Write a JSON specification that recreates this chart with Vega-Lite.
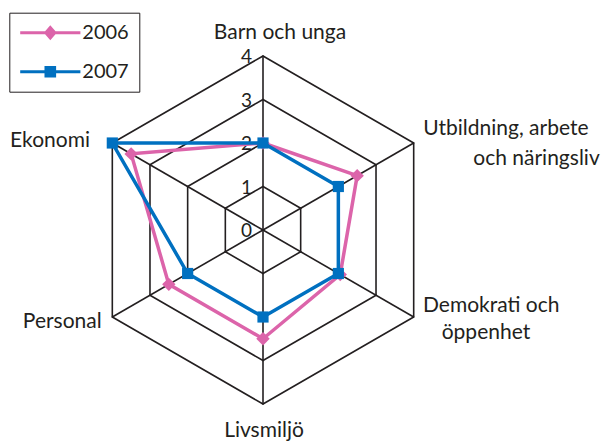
{
  "$schema": "https://vega.github.io/schema/vega-lite/v6.json",
  "width": 611,
  "height": 442,
  "padding": 0,
  "autosize": "none",
  "background": "white",
  "config": {"view": {"stroke": null}, "font": "Lato"},
  "datasets": {
    "grid": [
      {"level": 1, "k": 0}, {"level": 1, "k": 1}, {"level": 1, "k": 2}, {"level": 1, "k": 3}, {"level": 1, "k": 4}, {"level": 1, "k": 5},
      {"level": 2, "k": 0}, {"level": 2, "k": 1}, {"level": 2, "k": 2}, {"level": 2, "k": 3}, {"level": 2, "k": 4}, {"level": 2, "k": 5},
      {"level": 3, "k": 0}, {"level": 3, "k": 1}, {"level": 3, "k": 2}, {"level": 3, "k": 3}, {"level": 3, "k": 4}, {"level": 3, "k": 5},
      {"level": 4, "k": 0}, {"level": 4, "k": 1}, {"level": 4, "k": 2}, {"level": 4, "k": 3}, {"level": 4, "k": 4}, {"level": 4, "k": 5}
    ],
    "ticks": [{"level": 0}, {"level": 1}, {"level": 2}, {"level": 3}, {"level": 4}],
    "scores": [
      {"year": "2006", "axis": "Barn och unga", "k": 0, "value": 2.0},
      {"year": "2006", "axis": "Utbildning, arbete och näringsliv", "k": 1, "value": 2.5},
      {"year": "2006", "axis": "Demokrati och öppenhet", "k": 2, "value": 2.05},
      {"year": "2006", "axis": "Livsmiljö", "k": 3, "value": 2.5},
      {"year": "2006", "axis": "Personal", "k": 4, "value": 2.5},
      {"year": "2006", "axis": "Ekonomi", "k": 5, "value": 3.5},
      {"year": "2007", "axis": "Barn och unga", "k": 0, "value": 2.0},
      {"year": "2007", "axis": "Utbildning, arbete och näringsliv", "k": 1, "value": 2.0},
      {"year": "2007", "axis": "Demokrati och öppenhet", "k": 2, "value": 2.0},
      {"year": "2007", "axis": "Livsmiljö", "k": 3, "value": 2.0},
      {"year": "2007", "axis": "Personal", "k": 4, "value": 2.0},
      {"year": "2007", "axis": "Ekonomi", "k": 5, "value": 4.0}
    ],
    "labels": [
      {"id": "a", "k": 0, "text": "Barn och unga"},
      {"id": "b1", "k": 1, "text": "Utbildning, arbete"},
      {"id": "b2", "k": 1, "text": "och näringsliv"},
      {"id": "c1", "k": 2, "text": "Demokrati och"},
      {"id": "c2", "k": 2, "text": "öppenhet"},
      {"id": "d", "k": 3, "text": "Livsmiljö"},
      {"id": "e", "k": 4, "text": "Personal"},
      {"id": "f", "k": 5, "text": "Ekonomi"}
    ]
  },
  "layer": [
    {
      "data": {"name": "grid"},
      "transform": [
        {"calculate": "datum.level*cos(PI/2 - datum.k*PI/3)", "as": "px"},
        {"calculate": "datum.level*sin(PI/2 - datum.k*PI/3)", "as": "py"},
        {"calculate": "datum.level*cos(PI/2 - (datum.k+1)*PI/3)", "as": "px2"},
        {"calculate": "datum.level*sin(PI/2 - (datum.k+1)*PI/3)", "as": "py2"}
      ],
      "mark": {"type": "rule", "color": "#231f20", "strokeWidth": 1.6, "strokeCap": "round"},
      "encoding": {
        "x": {"field": "px", "type": "quantitative", "scale": {"domain": [-6.046, 8.0], "nice": false, "zero": false}, "axis": null},
        "y": {"field": "py", "type": "quantitative", "scale": {"domain": [-4.8736, 5.2874], "nice": false, "zero": false}, "axis": null},
        "x2": {"field": "px2"},
        "y2": {"field": "py2"}
      }
    },
    {
      "data": {"name": "grid"},
      "transform": [
        {"filter": "datum.level == 4"},
        {"calculate": "0", "as": "cx"},
        {"calculate": "0", "as": "cy"},
        {"calculate": "datum.level*cos(PI/2 - datum.k*PI/3)", "as": "px"},
        {"calculate": "datum.level*sin(PI/2 - datum.k*PI/3)", "as": "py"}
      ],
      "mark": {"type": "rule", "color": "#231f20", "strokeWidth": 1.6},
      "encoding": {
        "x": {"field": "cx", "type": "quantitative", "scale": {"domain": [-6.046, 8.0], "nice": false, "zero": false}, "axis": null},
        "y": {"field": "cy", "type": "quantitative", "scale": {"domain": [-4.8736, 5.2874], "nice": false, "zero": false}, "axis": null},
        "x2": {"field": "px"},
        "y2": {"field": "py"}
      }
    },
    {
      "data": {"name": "ticks"},
      "transform": [
        {"calculate": "0", "as": "px"},
        {"calculate": "datum.level", "as": "py"}
      ],
      "mark": {"type": "text", "align": "right", "baseline": "middle", "dx": -11, "dy": 1, "font": "Lato", "fontSize": 19, "color": "#231f20"},
      "encoding": {
        "x": {"field": "px", "type": "quantitative", "scale": {"domain": [-6.046, 8.0], "nice": false, "zero": false}, "axis": null},
        "y": {"field": "py", "type": "quantitative", "scale": {"domain": [-4.8736, 5.2874], "nice": false, "zero": false}, "axis": null},
        "text": {"field": "level", "type": "nominal"}
      }
    },
    {
      "data": {"name": "scores"},
      "transform": [
        {"filter": "datum.year == '2006'"},
        {"calculate": "datum.value*cos(PI/2 - datum.k*PI/3)", "as": "px"},
        {"calculate": "datum.value*sin(PI/2 - datum.k*PI/3)", "as": "py"}
      ],
      "mark": {"type": "line", "interpolate": "linear-closed", "strokeWidth": 3.5},
      "encoding": {
        "x": {"field": "px", "type": "quantitative", "scale": {"domain": [-6.046, 8.0], "nice": false, "zero": false}, "axis": null},
        "y": {"field": "py", "type": "quantitative", "scale": {"domain": [-4.8736, 5.2874], "nice": false, "zero": false}, "axis": null},
        "order": {"field": "k", "type": "quantitative"},
        "color": {
          "field": "year", "type": "nominal",
          "scale": {"domain": ["2006", "2007"], "range": ["#DC64AA", "#0070C0"]},
          "legend": {
            "type": "symbol",
            "title": null,
            "orient": "none",
            "legendX": 9.3,
            "legendY": 12.7,
            "strokeColor": "#231f20",
            "padding": 10,
            "rowPadding": 19,
            "symbolSize": 196,
            "symbolOffset": 21,
            "symbolStrokeWidth": 0,
            "labelOffset": 22,
            "labelFont": "Lato",
            "labelFontSize": 20,
            "labelColor": "#231f20",
            "encode": {
              "symbols": {
                "update": {
                  "shape": {"signal": "datum.value === '2006' ? 'M-4.3,-0.22L4.3,-0.22L4.3,0.22L-4.3,0.22Z M0,-1.07L0.93,0L0,1.07L-0.93,0Z' : 'M-4.3,-0.22L4.3,-0.22L4.3,0.22L-4.3,0.22Z M-0.83,-0.83L0.83,-0.83L0.83,0.83L-0.83,0.83Z'"},
                  "fill": {"signal": "datum.value === '2006' ? '#DC64AA' : '#0070C0'"},
                  "stroke": {"value": "transparent"},
                  "strokeWidth": {"value": 0},
                  "opacity": {"value": 1}
                }
              }
            }
          }
        }
      }
    },
    {
      "data": {"name": "scores"},
      "transform": [
        {"filter": "datum.year == '2006'"},
        {"calculate": "datum.value*cos(PI/2 - datum.k*PI/3)", "as": "px"},
        {"calculate": "datum.value*sin(PI/2 - datum.k*PI/3)", "as": "py"}
      ],
      "mark": {"type": "point", "shape": "diamond", "filled": true, "opacity": 1, "size": 180},
      "encoding": {
        "x": {"field": "px", "type": "quantitative", "scale": {"domain": [-6.046, 8.0], "nice": false, "zero": false}, "axis": null},
        "y": {"field": "py", "type": "quantitative", "scale": {"domain": [-4.8736, 5.2874], "nice": false, "zero": false}, "axis": null},
        "color": {"field": "year", "type": "nominal"}
      }
    },
    {
      "data": {"name": "scores"},
      "transform": [
        {"filter": "datum.year == '2007'"},
        {"calculate": "datum.value*cos(PI/2 - datum.k*PI/3)", "as": "px"},
        {"calculate": "datum.value*sin(PI/2 - datum.k*PI/3)", "as": "py"}
      ],
      "mark": {"type": "line", "interpolate": "linear-closed", "strokeWidth": 3.5},
      "encoding": {
        "x": {"field": "px", "type": "quantitative", "scale": {"domain": [-6.046, 8.0], "nice": false, "zero": false}, "axis": null},
        "y": {"field": "py", "type": "quantitative", "scale": {"domain": [-4.8736, 5.2874], "nice": false, "zero": false}, "axis": null},
        "order": {"field": "k", "type": "quantitative"},
        "color": {"field": "year", "type": "nominal"}
      }
    },
    {
      "data": {"name": "scores"},
      "transform": [
        {"filter": "datum.year == '2007'"},
        {"calculate": "datum.value*cos(PI/2 - datum.k*PI/3)", "as": "px"},
        {"calculate": "datum.value*sin(PI/2 - datum.k*PI/3)", "as": "py"}
      ],
      "mark": {"type": "point", "shape": "square", "filled": true, "opacity": 1, "size": 125},
      "encoding": {
        "x": {"field": "px", "type": "quantitative", "scale": {"domain": [-6.046, 8.0], "nice": false, "zero": false}, "axis": null},
        "y": {"field": "py", "type": "quantitative", "scale": {"domain": [-4.8736, 5.2874], "nice": false, "zero": false}, "axis": null},
        "color": {"field": "year", "type": "nominal"}
      }
    },
    {
      "data": {"name": "labels"},
      "transform": [
        {"filter": "datum.id == 'a'"},
        {"calculate": "4*cos(PI/2 - datum.k*PI/3)", "as": "px"},
        {"calculate": "4*sin(PI/2 - datum.k*PI/3)", "as": "py"}
      ],
      "mark": {"type": "text", "align": "center", "baseline": "alphabetic", "dx": 17, "dy": -17, "font": "Lato", "fontSize": 21, "color": "#231f20"},
      "encoding": {
        "x": {"field": "px", "type": "quantitative", "scale": {"domain": [-6.046, 8.0], "nice": false, "zero": false}, "axis": null},
        "y": {"field": "py", "type": "quantitative", "scale": {"domain": [-4.8736, 5.2874], "nice": false, "zero": false}, "axis": null},
        "text": {"field": "text", "type": "nominal"}
      }
    },
    {
      "data": {"name": "labels"},
      "transform": [
        {"filter": "datum.id == 'b1'"},
        {"calculate": "4*cos(PI/2 - datum.k*PI/3)", "as": "px"},
        {"calculate": "4*sin(PI/2 - datum.k*PI/3)", "as": "py"}
      ],
      "mark": {"type": "text", "align": "left", "baseline": "alphabetic", "dx": 9.6, "dy": -8, "font": "Lato", "fontSize": 21, "color": "#231f20"},
      "encoding": {
        "x": {"field": "px", "type": "quantitative", "scale": {"domain": [-6.046, 8.0], "nice": false, "zero": false}, "axis": null},
        "y": {"field": "py", "type": "quantitative", "scale": {"domain": [-4.8736, 5.2874], "nice": false, "zero": false}, "axis": null},
        "text": {"field": "text", "type": "nominal"}
      }
    },
    {
      "data": {"name": "labels"},
      "transform": [
        {"filter": "datum.id == 'b2'"},
        {"calculate": "4*cos(PI/2 - datum.k*PI/3)", "as": "px"},
        {"calculate": "4*sin(PI/2 - datum.k*PI/3)", "as": "py"}
      ],
      "mark": {"type": "text", "align": "left", "baseline": "alphabetic", "dx": 59.6, "dy": 22, "font": "Lato", "fontSize": 21, "color": "#231f20"},
      "encoding": {
        "x": {"field": "px", "type": "quantitative", "scale": {"domain": [-6.046, 8.0], "nice": false, "zero": false}, "axis": null},
        "y": {"field": "py", "type": "quantitative", "scale": {"domain": [-4.8736, 5.2874], "nice": false, "zero": false}, "axis": null},
        "text": {"field": "text", "type": "nominal"}
      }
    },
    {
      "data": {"name": "labels"},
      "transform": [
        {"filter": "datum.id == 'c1'"},
        {"calculate": "4*cos(PI/2 - datum.k*PI/3)", "as": "px"},
        {"calculate": "4*sin(PI/2 - datum.k*PI/3)", "as": "py"}
      ],
      "mark": {"type": "text", "align": "left", "baseline": "alphabetic", "dx": 9.3, "dy": -5.3, "font": "Lato", "fontSize": 21, "color": "#231f20"},
      "encoding": {
        "x": {"field": "px", "type": "quantitative", "scale": {"domain": [-6.046, 8.0], "nice": false, "zero": false}, "axis": null},
        "y": {"field": "py", "type": "quantitative", "scale": {"domain": [-4.8736, 5.2874], "nice": false, "zero": false}, "axis": null},
        "text": {"field": "text", "type": "nominal"}
      }
    },
    {
      "data": {"name": "labels"},
      "transform": [
        {"filter": "datum.id == 'c2'"},
        {"calculate": "4*cos(PI/2 - datum.k*PI/3)", "as": "px"},
        {"calculate": "4*sin(PI/2 - datum.k*PI/3)", "as": "py"}
      ],
      "mark": {"type": "text", "align": "left", "baseline": "alphabetic", "dx": 28, "dy": 22, "font": "Lato", "fontSize": 21, "color": "#231f20"},
      "encoding": {
        "x": {"field": "px", "type": "quantitative", "scale": {"domain": [-6.046, 8.0], "nice": false, "zero": false}, "axis": null},
        "y": {"field": "py", "type": "quantitative", "scale": {"domain": [-4.8736, 5.2874], "nice": false, "zero": false}, "axis": null},
        "text": {"field": "text", "type": "nominal"}
      }
    },
    {
      "data": {"name": "labels"},
      "transform": [
        {"filter": "datum.id == 'd'"},
        {"calculate": "4*cos(PI/2 - datum.k*PI/3)", "as": "px"},
        {"calculate": "4*sin(PI/2 - datum.k*PI/3)", "as": "py"}
      ],
      "mark": {"type": "text", "align": "center", "baseline": "alphabetic", "dx": 1, "dy": 32.7, "font": "Lato", "fontSize": 21, "color": "#231f20"},
      "encoding": {
        "x": {"field": "px", "type": "quantitative", "scale": {"domain": [-6.046, 8.0], "nice": false, "zero": false}, "axis": null},
        "y": {"field": "py", "type": "quantitative", "scale": {"domain": [-4.8736, 5.2874], "nice": false, "zero": false}, "axis": null},
        "text": {"field": "text", "type": "nominal"}
      }
    },
    {
      "data": {"name": "labels"},
      "transform": [
        {"filter": "datum.id == 'e'"},
        {"calculate": "4*cos(PI/2 - datum.k*PI/3)", "as": "px"},
        {"calculate": "4*sin(PI/2 - datum.k*PI/3)", "as": "py"}
      ],
      "mark": {"type": "text", "align": "right", "baseline": "alphabetic", "dx": -10.6, "dy": 11, "font": "Lato", "fontSize": 21, "color": "#231f20"},
      "encoding": {
        "x": {"field": "px", "type": "quantitative", "scale": {"domain": [-6.046, 8.0], "nice": false, "zero": false}, "axis": null},
        "y": {"field": "py", "type": "quantitative", "scale": {"domain": [-4.8736, 5.2874], "nice": false, "zero": false}, "axis": null},
        "text": {"field": "text", "type": "nominal"}
      }
    },
    {
      "data": {"name": "labels"},
      "transform": [
        {"filter": "datum.id == 'f'"},
        {"calculate": "4*cos(PI/2 - datum.k*PI/3)", "as": "px"},
        {"calculate": "4*sin(PI/2 - datum.k*PI/3)", "as": "py"}
      ],
      "mark": {"type": "text", "align": "right", "baseline": "alphabetic", "dx": -22.3, "dy": 3.7, "font": "Lato", "fontSize": 21, "color": "#231f20"},
      "encoding": {
        "x": {"field": "px", "type": "quantitative", "scale": {"domain": [-6.046, 8.0], "nice": false, "zero": false}, "axis": null},
        "y": {"field": "py", "type": "quantitative", "scale": {"domain": [-4.8736, 5.2874], "nice": false, "zero": false}, "axis": null},
        "text": {"field": "text", "type": "nominal"}
      }
    }
  ]
}
